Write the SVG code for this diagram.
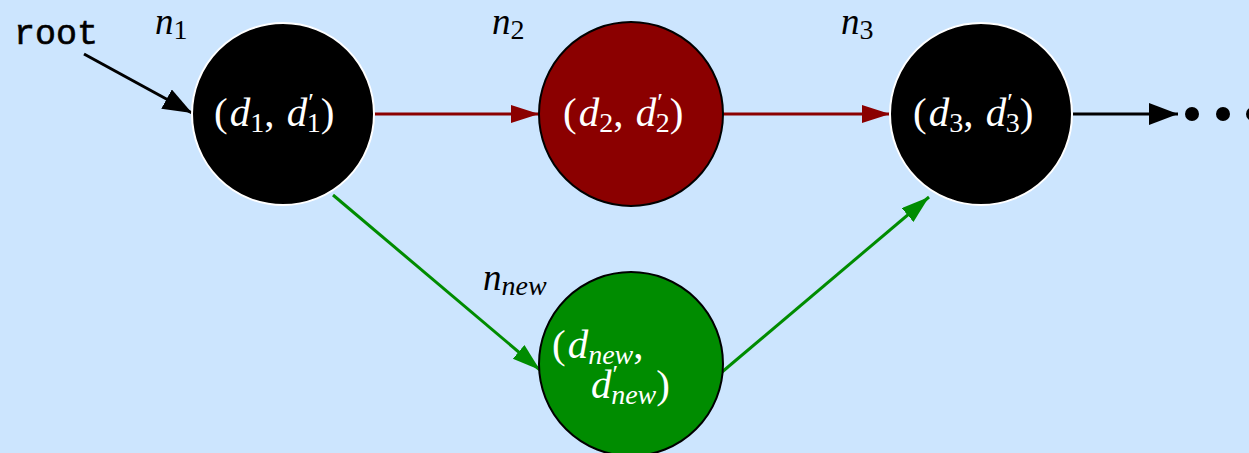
<svg xmlns="http://www.w3.org/2000/svg" width="1249" height="453" viewBox="0 0 1249 453">
<style>
.lbl{font-family:"Liberation Serif","DejaVu Serif",serif;font-size:41px;fill:#fff}
.nm{font-family:"Liberation Serif","DejaVu Serif",serif;font-size:37px;fill:#000;font-style:italic}
.it{font-style:italic}
.sub{font-size:28px;font-style:normal}
.subi{font-size:28px;font-style:italic}
.pr{font-size:26px;font-style:normal}
.node{stroke-width:2}
.conn{fill:none;stroke-width:3}
</style>
<defs>
<marker id="ak" markerUnits="userSpaceOnUse" markerWidth="32" markerHeight="24" refX="29" refY="11" orient="auto"><path d="M0,0 L29,11 L0,22 z" fill="#000"/></marker>
<marker id="ar" markerUnits="userSpaceOnUse" markerWidth="32" markerHeight="24" refX="28" refY="9" orient="auto"><path d="M0,0 L28,9 L0,18 z" fill="#8b0000"/></marker>
<marker id="ag" markerUnits="userSpaceOnUse" markerWidth="32" markerHeight="24" refX="28" refY="9" orient="auto"><path d="M0,0 L28,9 L0,18 z" fill="#008c00"/></marker>
</defs>
<rect width="1249" height="453" fill="#cce5fe"/>
<g id="connectors">
<path class="conn" stroke="#000" d="M84,54 L192,113" marker-end="url(#ak)"/>
<path class="conn" stroke="#8b0000" d="M374,114 L539,114" marker-end="url(#ar)"/>
<path class="conn" stroke="#8b0000" d="M723,114 L890,114" marker-end="url(#ar)"/>
<path class="conn" stroke="#000" d="M1073,114 L1178,114" marker-end="url(#ak)"/>
<path class="conn" stroke="#008c00" d="M333,195 L540,370" marker-end="url(#ag)"/>
<path class="conn" stroke="#008c00" d="M722,372 L929,197" marker-end="url(#ag)"/>
</g>
<g id="dots">
<circle cx="1192" cy="114" r="7" fill="#000"/>
<circle cx="1223" cy="114" r="7" fill="#000"/>
<circle cx="1253" cy="114" r="7" fill="#000"/>
</g>
<g id="root">
<text x="14" y="44" font-family="Liberation Mono, DejaVu Sans Mono, monospace" font-size="35" fill="#000" stroke="#000" stroke-width="0.6">root</text>
</g>
<g id="n1">
<circle class="node" cx="283" cy="114" r="91" fill="#000" stroke="#fff"/>
<text class="lbl" x="214" y="126">(<tspan class="it" dx="2">d</tspan><tspan class="sub" dy="6">1</tspan><tspan dy="-6">, </tspan><tspan class="it" dx="2">d</tspan><tspan class="pr" dy="-15" dx="1">′</tspan><tspan class="sub" dx="-7" dy="21">1</tspan><tspan dy="-6">)</tspan></text>
<text class="nm" x="155" y="34">n<tspan class="sub" dy="5">1</tspan></text>
</g>
<g id="n2">
<circle class="node" cx="631" cy="114" r="92" fill="#8b0000" stroke="#000"/>
<text class="lbl" x="563" y="126">(<tspan class="it" dx="2">d</tspan><tspan class="sub" dy="6">2</tspan><tspan dy="-6">, </tspan><tspan class="it" dx="2">d</tspan><tspan class="pr" dy="-15" dx="1">′</tspan><tspan class="sub" dx="-7" dy="21">2</tspan><tspan dy="-6">)</tspan></text>
<text class="nm" x="492" y="34">n<tspan class="sub" dy="5">2</tspan></text>
</g>
<g id="n3">
<circle class="node" cx="981" cy="114" r="91" fill="#000" stroke="#fff"/>
<text class="lbl" x="913" y="126">(<tspan class="it" dx="2">d</tspan><tspan class="sub" dy="6">3</tspan><tspan dy="-6">, </tspan><tspan class="it" dx="2">d</tspan><tspan class="pr" dy="-15" dx="1">′</tspan><tspan class="sub" dx="-7" dy="21">3</tspan><tspan dy="-6">)</tspan></text>
<text class="nm" x="841" y="34">n<tspan class="sub" dy="5">3</tspan></text>
</g>
<g id="nnew">
<circle class="node" cx="631" cy="364" r="92" fill="#008c00" stroke="#000"/>
<text class="lbl" x="552" y="358">(<tspan class="it" dx="2">d</tspan><tspan class="subi" dy="6">new</tspan><tspan dy="-6">,</tspan></text>
<text class="lbl" x="591" y="398"><tspan class="it">d</tspan><tspan class="pr" dy="-15" dx="1">′</tspan><tspan class="subi" dx="-7" dy="21">new</tspan><tspan dy="-6">)</tspan></text>
<text class="nm" x="483" y="290">n<tspan class="subi" dy="5">new</tspan></text>
</g>
</svg>
